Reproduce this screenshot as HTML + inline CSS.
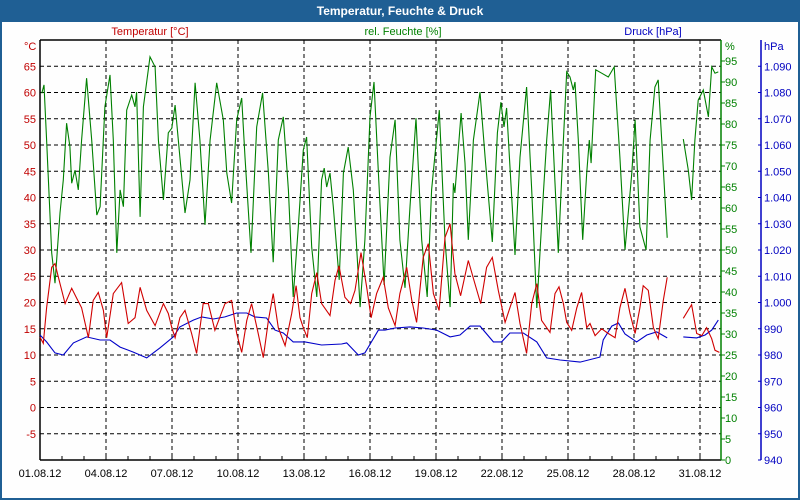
<!DOCTYPE html>
<html><head><meta charset="utf-8"><style>
body{margin:0;background:#fff}
svg{display:block;font-family:"Liberation Sans",sans-serif}
</style></head><body>
<svg id="c" width="800" height="500" viewBox="0 0 800 500" xmlns="http://www.w3.org/2000/svg">
<rect x="0" y="0" width="800" height="500" fill="#1f5f94"/>
<rect x="2" y="22" width="796" height="476" fill="#fefefe"/>
<text x="400" y="15" fill="#fff" font-size="12" font-weight="bold" text-anchor="middle">Temperatur, Feuchte &amp; Druck</text>
<text x="150" y="35" fill="#c00000" font-size="11" text-anchor="middle">Temperatur [°C]</text>
<text x="403" y="35" fill="#008000" font-size="11" text-anchor="middle">rel. Feuchte [%]</text>
<text x="653" y="35" fill="#0000c0" font-size="11" text-anchor="middle">Druck [hPa]</text>
<g id="grid"></g><g id="axes"></g><g id="series"></g>
</svg>
<script>
const dateLabels=["01.08.12","04.08.12","07.08.12","10.08.12","13.08.12","16.08.12","19.08.12","22.08.12","25.08.12","28.08.12","31.08.12"];
const tempTicks=[-10,-5,0,5,10,15,20,25,30,35,40,45,50,55,60,65];
const humTicks=[0,5,10,15,20,25,30,35,40,45,50,55,60,65,70,75,80,85,90,95];
const presTicks=[940,950,960,970,980,990,1000,1010,1020,1030,1040,1050,1060,1070,1080,1090];
const presLabels=["940","950","960","970","980","990","1.000","1.010","1.020","1.030","1.040","1.050","1.060","1.070","1.080","1.090"];
const humT=[0.08,0.18,0.30,0.53,0.68,0.91,1.06,1.21,1.36,1.44,1.59,1.74,1.89,2.12,2.35,2.58,2.73,2.95,3.18,3.33,3.49,3.64,3.79,3.94,4.17,4.32,4.39,4.55,4.70,5.0,5.23,5.38,5.61,5.83,5.99,6.14,6.36,6.59,6.82,7.05,7.27,7.5,7.73,8.03,8.33,8.49,8.71,8.94,9.17,9.32,9.59,9.85,10.12,10.38,10.6,10.83,11.06,11.29,11.51,11.74,11.97,12.12,12.35,12.58,12.8,12.92,13.03,13.18,13.33,13.6,13.79,14.01,14.24,14.55,14.77,15.0,15.18,15.38,15.64,15.91,16.14,16.36,16.59,16.82,17.09,17.35,17.6,17.8,18.15,18.41,18.64,18.79,18.86,19.14,19.32,19.47,19.7,20.0,20.23,20.56,20.79,20.95,21.09,21.21,21.44,21.59,21.82,22.12,22.35,22.58,22.88,23.03,23.21,23.41,23.56,23.79,23.94,24.09,24.24,24.32,24.47,24.67,24.85,24.97,25.05,25.26,25.53,25.83,26.1,26.36,26.59,26.9,27.05,27.27,27.55,27.73,27.95,28.1,28.26,28.51,null,29.24,29.47,29.62,29.77,29.92,30.15,30.38,30.53,30.68,30.83];
const humV=[87.3,89.3,76.2,49.3,42.1,58.8,66.7,80.2,74.6,65.9,69,64.3,76.2,90.9,76.2,58.3,60.3,84.1,91.7,76.2,49.3,64.3,60.3,83.3,86.9,84.1,87.6,57.9,84.1,96,93.6,76.2,61.9,77.9,79,84.5,72.1,58.8,66.7,89.8,76.2,56,76.2,89.8,81,68.3,61.2,81,86.2,72.1,49.3,79.3,87.4,68.3,47.1,76.2,81.7,64.3,38.8,55.5,73.8,76.9,50.7,38.8,66.7,69.5,65,68.3,60.3,42.9,68.3,74.5,64.3,36.4,52.4,81.7,90,68.3,41.7,72.1,81,52.4,41,60.3,81.4,52.4,38.8,64.3,83.3,52.4,36.4,65.9,63.6,82.6,70.7,52.4,76.2,87.6,72.1,51.9,77.9,85.2,79.3,83.8,62.6,48.8,72.1,88.8,64.3,36.2,63.6,76.2,88.1,65.9,49.3,76.2,92.4,91.2,88.1,90,76.2,52.4,68.3,76.2,70.7,92.9,92.1,91.2,93.6,72.1,50,68.3,81,55.5,50,76.2,88.8,90.5,76.2,52.9,null,76.4,69,61.9,76.2,85.7,88.1,81.7,93.6,92.1,92.4];
const tempT=[0,0.15,0.30,0.53,0.68,0.91,1.14,1.44,1.67,1.89,2.2,2.42,2.65,2.88,3.03,3.33,3.71,4.01,4.32,4.55,4.85,5.23,5.61,5.83,5.99,6.14,6.36,6.59,6.89,7.12,7.42,7.65,7.95,8.41,8.71,8.94,9.17,9.4,9.62,9.92,10.15,10.38,10.6,10.83,11.14,11.44,11.64,11.82,11.97,12.15,12.35,12.58,12.8,13.18,13.41,13.59,13.86,14.12,14.32,14.59,14.85,15.05,15.3,15.6,15.83,16.14,16.36,16.67,16.9,17.12,17.42,17.65,17.88,18.14,18.41,18.64,18.86,19.12,19.47,19.77,20.03,20.3,20.56,20.83,21.14,21.36,21.59,21.82,22.12,22.35,22.58,22.8,23.18,23.41,23.59,23.79,23.94,24.17,24.4,24.62,24.85,25,25.23,25.53,25.83,26.14,26.36,26.59,26.82,27.05,27.27,27.42,27.65,27.88,28.1,28.33,28.51,null,29.24,29.62,29.85,30.08,30.3,30.53,30.68,30.88];
const tempV=[13.4,12.2,19,26.7,27.4,23.6,19.8,22.7,20.8,19,13.3,20.4,21.9,18.5,13.3,21.7,23.8,16,17.1,22.9,18.5,15.6,19.8,17.9,15.2,13.3,17.1,18.5,14.1,10.3,19.8,19.8,14.7,19.8,20.4,14.1,10.5,16.6,19.8,14.1,9.5,16.6,21.7,15.2,11.8,17.9,23.2,17.1,15.2,13.3,21.7,25.7,19.8,17.5,24.2,27,21,19.8,22.3,29.5,22.9,17.1,21.7,24.8,19,15.6,21.7,26.7,20.4,16.2,28.6,31.2,21.7,18.5,32.4,35,25.5,21.3,28,23.6,19.8,26.7,28.6,22.3,16.2,19,21.9,16,10.3,19.8,23.6,16.6,14.3,21.7,23,19.8,16.2,14.7,19,21.9,15.2,16,13.7,15,14.1,13.3,19,22.7,17.9,14.1,19,23.2,22.3,15.2,13.1,20.4,24.8,null,17,19.6,14.1,13.7,15.2,13.1,10.9,10.5];
const presT=[0,0.3,0.68,1.06,1.52,2.12,2.73,3.18,3.64,4.24,4.85,5.45,6.06,6.36,6.97,7.35,7.88,8.41,8.94,9.4,9.77,10.3,10.68,11.06,11.51,12.05,12.8,13.71,13.94,14.47,14.77,15.38,15.68,16.14,16.82,17.42,18.03,18.64,19.09,19.55,20,20.61,20.98,21.36,21.97,22.58,23.03,23.64,24.55,25.45,25.6,25.99,26.29,26.59,27.12,27.58,28.03,28.51,null,29.24,29.85,30.23,30.53,30.83];
const presV=[987.6,985,980.8,980,984.6,986.9,985.7,985.7,983,981.1,978.9,982.7,986.9,990.7,993.3,994.5,993.7,994.5,996,996,994.5,994.1,989.5,988.4,985,985,983.8,984.2,984.6,980,980.8,989.5,989.5,990.3,990.7,990.3,989.5,986.9,987.6,991,991,985,985,988.4,988.4,985,978.9,978.1,977.3,979.2,985.7,991,992.2,988,985,987.6,988.8,986.5,null,986.9,986.5,987.6,989.5,993.3];

const L=40,R=721,T=40,B=460,PX=22;
const xS=d=>L+d*PX;
const yTemp=v=>B-(v+10)*(B-T)/80;
const yHum=v=>B-v*(B-T)/100;
const yPres=v=>B-(v-940)*(B-T)/160;
const NS="http://www.w3.org/2000/svg";
function mk(parent,tag,attrs){const e=document.createElementNS(NS,tag);for(const k in attrs)e.setAttribute(k,attrs[k]);parent.appendChild(e);return e;}
const grid=document.getElementById('grid'),axes=document.getElementById('axes'),series=document.getElementById('series');
// horizontal grid
tempTicks.forEach(v=>{if(v===-10)return;const y=yTemp(v);
 const g=mk(grid,'line',{x1:L,x2:R,y1:y,y2:y,stroke:'#000','stroke-dasharray':'4,3','stroke-width':1});
 
 
 const t=mk(axes,'text',{x:36,y:y+4,fill:'#c00000','font-size':11,'text-anchor':'end'});t.textContent=v;
 
 });
// vertical grid and date labels
dateLabels.forEach((lab,i)=>{const x=xS(i*3);
 if(i>0){const g=mk(grid,'line',{x1:x,x2:x,y1:T,y2:B,stroke:'#000','stroke-dasharray':'4,3','stroke-width':1});
 
 }
 const t=mk(axes,'text',{x:x,y:477,fill:'#000','font-size':11,'text-anchor':'middle'});t.textContent=lab;
 
 });
for(let d=1;d<31;d++){const x=xS(d);const tk=mk(axes,'line',{x1:x,x2:x,y1:B-4,y2:B,stroke:'#000'});
 
 }
// axis lines
let a=mk(axes,'line',{x1:L,x2:L,y1:T,y2:B,stroke:'#000','stroke-width':1.5});


a=mk(axes,'line',{x1:L,x2:R,y1:B,y2:B,stroke:'#000','stroke-width':1.5});


a=mk(axes,'line',{x1:L,x2:R,y1:T,y2:T,stroke:'#000','stroke-width':1.5});


a=mk(axes,'line',{x1:R,x2:R,y1:T,y2:B,stroke:'#008000','stroke-width':1.5});


a=mk(axes,'line',{x1:761,x2:761,y1:T,y2:B,stroke:'#0000c0','stroke-width':1.5});


humTicks.forEach(v=>{const y=yHum(v);const tk=mk(axes,'line',{x1:R,x2:R+4,y1:y,y2:y,stroke:'#008000'});
 
 
 const t=mk(axes,'text',{x:725,y:y+4,fill:'#008000','font-size':11});t.textContent=v;
 
 });
presTicks.forEach((v,i)=>{const y=yPres(v);const tk=mk(axes,'line',{x1:758,x2:761,y1:y,y2:y,stroke:'#0000c0'});
 
 
 const t=mk(axes,'text',{x:764,y:y+4,fill:'#0000c0','font-size':11});t.textContent=presLabels[i];
 
 });
let u=mk(axes,'text',{x:24,y:50,fill:'#c00000','font-size':11});u.textContent='°C';


u=mk(axes,'text',{x:725,y:50,fill:'#008000','font-size':11});u.textContent='%';


u=mk(axes,'text',{x:764,y:50,fill:'#0000c0','font-size':11});u.textContent='hPa';


function path(ts,vs,yf){let d='',pen=false;for(let i=0;i<ts.length;i++){if(ts[i]===null||vs[i]===null){pen=false;continue;}d+=(pen?'L':'M')+xS(ts[i]).toFixed(1)+','+yf(vs[i]).toFixed(1);pen=true;}return d;}
let p=mk(series,'path',{d:path(humT,humV,yHum),fill:'none',stroke:'#008000','stroke-width':1.1});


p=mk(series,'path',{d:path(presT,presV,yPres),fill:'none',stroke:'#0000c8','stroke-width':1.1});


p=mk(series,'path',{d:path(tempT,tempV,yTemp),fill:'none',stroke:'#d00000','stroke-width':1.1});


</script>
</body></html>
